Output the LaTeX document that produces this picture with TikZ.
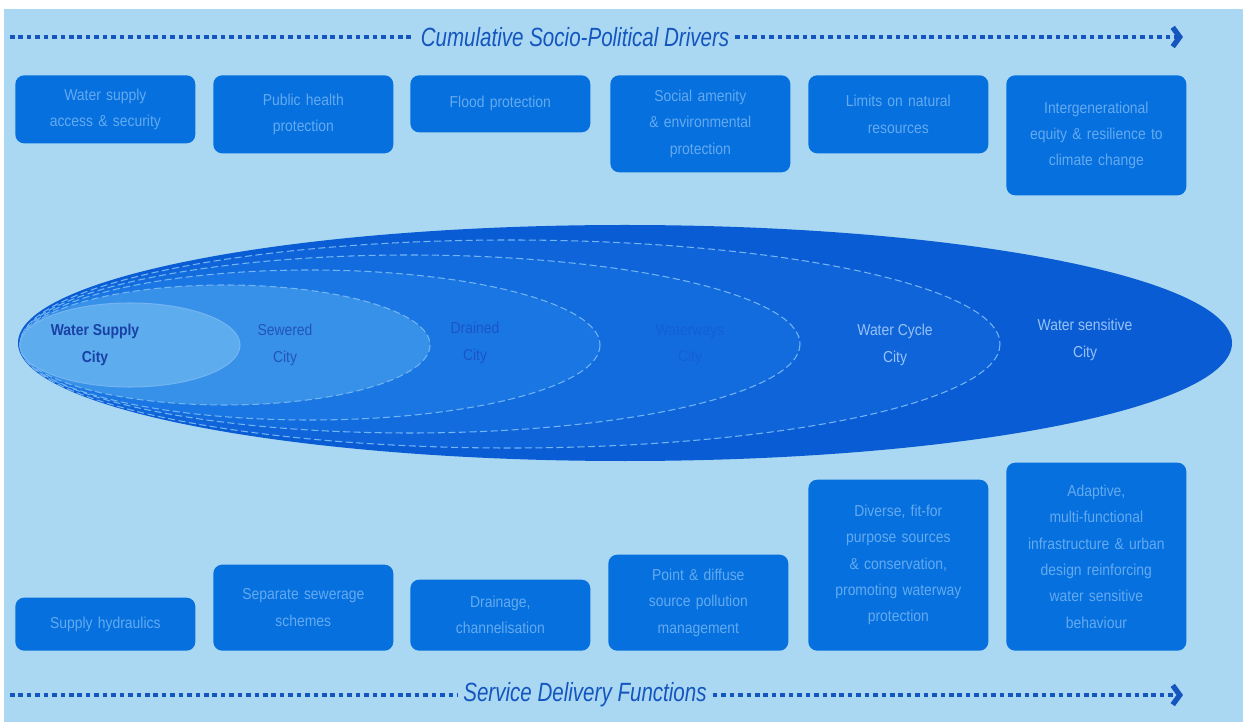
\documentclass[tikz,border=0pt]{standalone}
\usepackage{fontspec}
\setmainfont{Liberation Sans}
\newfontfamily\headfont[FakeStretch=0.78]{Liberation Sans}
\newfontfamily\boxfont[FakeStretch=0.88]{Liberation Sans}
\usetikzlibrary{arrows.meta}

\definecolor{bgblue}{RGB}{170,216,242}
\definecolor{boxblue}{RGB}{5,112,222}
\definecolor{boxtext}{RGB}{100,170,240}
\definecolor{dotblue}{RGB}{20,85,190}
\definecolor{sensblue}{RGB}{10,92,212}
\definecolor{cycleblue}{RGB}{15,100,218}
\definecolor{waysblue}{RGB}{18,108,222}
\definecolor{drainblue}{RGB}{25,118,226}
\definecolor{sewerblue}{RGB}{55,145,232}
\definecolor{supplyblue}{RGB}{92,172,238}
\definecolor{edgeblue}{RGB}{115,180,242}

\begin{document}
\begin{tikzpicture}[x=0.02cm, y=-0.02cm,
	drvbox/.style={fill=boxblue, rounded corners=5pt, minimum width=3.6cm,
		text width=3.3cm, align=center, inner sep=2pt, text=boxtext,
		font=\boxfont\fontsize{9}{15}\selectfont},
	dotline/.style={dotblue, line width=2.2pt, dash pattern=on 2.6pt off 2.2pt},
	headlab/.style={text=dotblue, font=\headfont\itshape\fontsize{15}{17}\selectfont},
	ring/.style={draw=edgeblue, line width=0.6pt, dash pattern=on 4pt off 2pt},
	citylab/.style={align=center, font=\boxfont\fontsize{9}{15}\selectfont}]

	% background
	\fill[white] (0,0) rectangle (1243,722);
	\fill[bgblue] (4,9) rectangle (1243,722);

	% top arrow
	\coordinate (topstart) at (10,37);
	\coordinate (topend) at (1183,37);
	\node[headlab] (drivers) at (575,37) {Cumulative Socio-Political Drivers};
	\draw[dotline] (topstart) -- (drivers.west);
	\draw[dotline, -{Straight Barb[length=4pt,width=11pt,line width=3pt]}] (drivers.east) -- (topend);

	% drivers
	\node[drvbox, anchor=north west, minimum height=1.36cm] (access) at (15,75) {Water supply\\access \& security};
	\node[drvbox, anchor=north west, minimum height=1.56cm] (health) at (213,75) {Public health\\protection};
	\node[drvbox, anchor=north west, minimum height=1.14cm] (flood) at (410,75) {Flood protection};
	\node[drvbox, anchor=north west, minimum height=1.94cm] (amenity) at (610,75) {Social amenity\\\& environmental\\protection};
	\node[drvbox, anchor=north west, minimum height=1.56cm] (limits) at (808,75) {Limits on natural\\resources};
	\node[drvbox, anchor=north west, minimum height=2.40cm] (equity) at (1006,75) {Intergenerational\\equity \& resilience to\\climate change};

	% nested cities
	\fill[sensblue] (625,343) ellipse [x radius=607, y radius=118];
	\fill[cycleblue, ring] (510,344) ellipse [x radius=490, y radius=104];
	\fill[waysblue, ring] (410,344) ellipse [x radius=390, y radius=89];
	\fill[drainblue, ring] (310,345) ellipse [x radius=290, y radius=75];
	\fill[sewerblue, ring] (225,345) ellipse [x radius=205, y radius=60];
	\fill[supplyblue, draw=edgeblue, line width=0.6pt] (130,345) ellipse [x radius=110, y radius=42];

	\node[citylab, text={rgb,255:red,25;green,65;blue,165}, font=\boxfont\bfseries\fontsize{9}{15}\selectfont] (supply) at (95,345) {Water Supply\\City};
	\node[citylab, text={rgb,255:red,35;green,85;blue,185}] (sewered) at (285,345) {Sewered\\City};
	\node[citylab, text={rgb,255:red,25;green,85;blue,200}] (drained) at (475,343) {Drained\\City};
	\node[citylab, text={rgb,255:red,20;green,96;blue,212}] (waterways) at (690,345) {Waterways\\City};
	\node[citylab, text={rgb,255:red,150;green,195;blue,245}] (cycle) at (895,345) {Water Cycle\\City};
	\node[citylab, text={rgb,255:red,150;green,195;blue,245}] (sensitive) at (1085,340) {Water sensitive\\City};

	% functions
	\node[drvbox, anchor=south west, minimum height=1.06cm] (hydraulics) at (15,651) {Supply hydraulics};
	\node[drvbox, anchor=south west, minimum height=1.72cm] (sewerage) at (213,651) {Separate sewerage\\schemes};
	\node[drvbox, anchor=south west, minimum height=1.42cm] (drainage) at (410,651) {Drainage,\\channelisation};
	\node[drvbox, anchor=south west, minimum height=1.92cm] (pollution) at (608,651) {Point \& diffuse\\source pollution\\management};
	\node[drvbox, anchor=south west, minimum height=3.42cm] (diverse) at (808,651) {Diverse, fit-for\\purpose sources\\\& conservation,\\promoting waterway\\protection};
	\node[drvbox, anchor=south west, minimum height=3.76cm] (adaptive) at (1006,651) {Adaptive,\\multi-functional\\infrastructure \& urban\\design reinforcing\\water sensitive\\behaviour};

	% bottom arrow
	\coordinate (botstart) at (10,695);
	\coordinate (botend) at (1183,695);
	\node[headlab] (service) at (585,695) {Service Delivery Functions};
	\draw[dotline] (botstart) -- (service.west);
	\draw[dotline, -{Straight Barb[length=4pt,width=11pt,line width=3pt]}] (service.east) -- (botend);
\end{tikzpicture}
\end{document}
